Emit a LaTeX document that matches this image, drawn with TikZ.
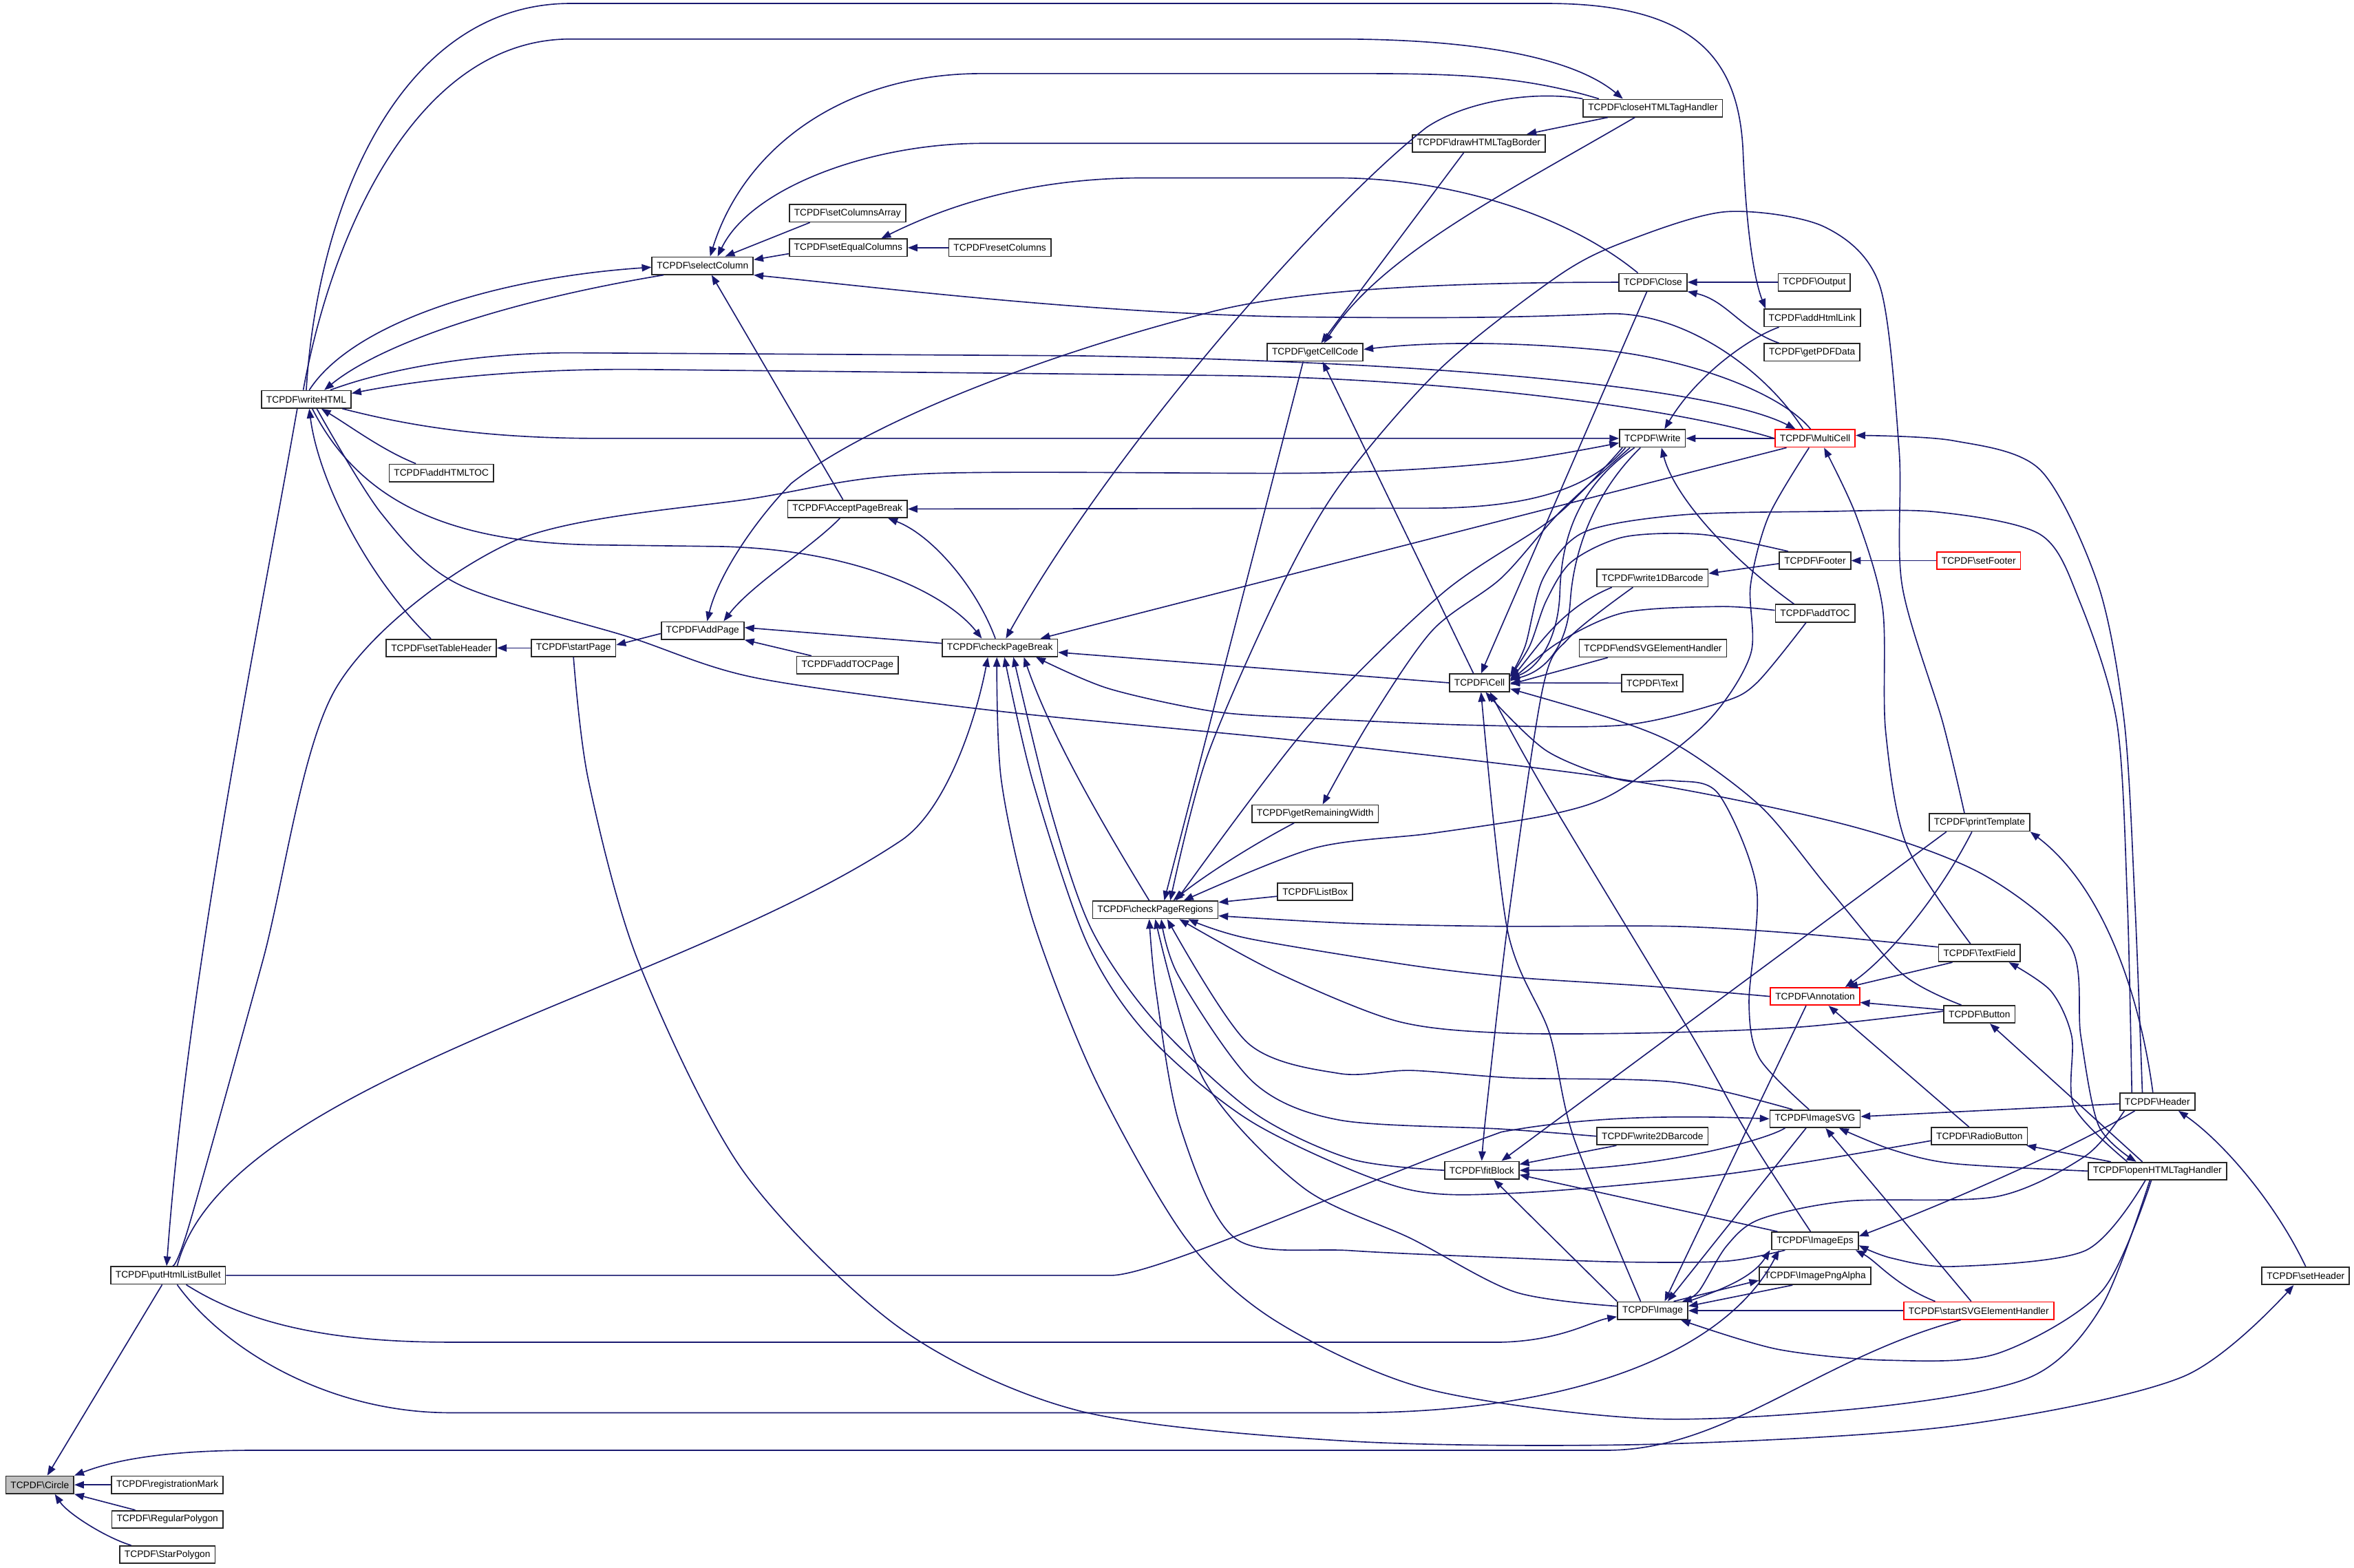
\documentclass[tikz,border=0pt]{standalone}
\usepackage{fontspec}
\setmainfont{Liberation Sans}
\usetikzlibrary{arrows.meta}
\definecolor{edgeblue}{HTML}{191970}
\definecolor{hotred}{HTML}{FF0000}
\definecolor{focusgray}{HTML}{BFBFBF}
\newcommand\tcpdf[1]{TCPDF\textbackslash #1}

\begin{document}
\begin{tikzpicture}[x=1pt, y=-1pt,
  fn/.style={draw=black!85, fill=white, line width=0.8pt, inner xsep=3.2pt, inner ysep=0pt,
    minimum height=11.6pt, font=\fontsize{6.3}{7}\selectfont},
  hot/.style={fn, draw=hotred},
  focus/.style={fn, fill=focusgray},
  call/.style={draw=edgeblue, line width=0.75pt, -{Triangle[length=6.4pt,width=4.8pt]}}]
\fill[white] (0,0) rectangle (1568,1044.4);
\useasboundingbox (0,0) rectangle (1568,1044.4);

\node[focus] (circle) at (26.5,989) {\tcpdf{Circle}};
\node[fn] (regmark) at (111.5,989) {\tcpdf{registrationMark}};
\node[fn] (regpoly) at (111.5,1012) {\tcpdf{RegularPolygon}};
\node[fn] (starpoly) at (111.5,1035.5) {\tcpdf{StarPolygon}};
\node[fn] (bullet) at (112,849.5) {\tcpdf{putHtmlListBullet}};
\node[fn] (writehtml) at (204,266) {\tcpdf{writeHTML}};
\node[fn] (addhtmltoc) at (294,315) {\tcpdf{addHTMLTOC}};
\node[fn] (settablehdr) at (294,431.6) {\tcpdf{setTableHeader}};
\node[fn] (startpage) at (382,431.6) {\tcpdf{startPage}};
\node[fn] (addpage) at (468,420) {\tcpdf{AddPage}};
\node[fn] (addtocpage) at (564.5,443) {\tcpdf{addTOCPage}};
\node[fn] (selectcol) at (468,177) {\tcpdf{selectColumn}};
\node[fn] (setcolarr) at (564.5,142) {\tcpdf{setColumnsArray}};
\node[fn] (seteqcol) at (565,165) {\tcpdf{setEqualColumns}};
\node[fn] (resetcol) at (666,165) {\tcpdf{resetColumns}};
\node[fn] (acceptpb) at (564.5,339) {\tcpdf{AcceptPageBreak}};
\node[fn] (checkpb) at (666,431.5) {\tcpdf{checkPageBreak}};
\node[fn] (checkpr) at (769.5,606) {\tcpdf{checkPageRegions}};
\node[fn] (remwidth) at (876,542) {\tcpdf{getRemainingWidth}};
\node[fn] (listbox) at (876,594) {\tcpdf{ListBox}};
\node[fn] (getcellcode) at (876,234.7) {\tcpdf{getCellCode}};
\node[fn] (drawborder) at (985,95.5) {\tcpdf{drawHTMLTagBorder}};
\node[fn] (closetag) at (1101,72) {\tcpdf{closeHTMLTagHandler}};
\node[fn] (close) at (1101,188) {\tcpdf{Close}};
\node[fn] (output) at (1208.5,188) {\tcpdf{Output}};
\node[fn] (addhtmllink) at (1207,211.7) {\tcpdf{addHtmlLink}};
\node[fn] (getpdfdata) at (1207,234.7) {\tcpdf{getPDFData}};
\node[fn] (write) at (1100.7,292) {\tcpdf{Write}};
\node[hot] (multicell) at (1209,292) {\tcpdf{MultiCell}};
\node[fn] (footer) at (1209,373.4) {\tcpdf{Footer}};
\node[hot] (setfooter) at (1318,373.4) {\tcpdf{setFooter}};
\node[fn] (write1d) at (1100.7,385) {\tcpdf{write1DBarcode}};
\node[fn] (addtoc) at (1209,408.5) {\tcpdf{addTOC}};
\node[fn] (endsvg) at (1101,431.8) {\tcpdf{endSVGElementHandler}};
\node[fn] (text) at (1100.6,455) {\tcpdf{Text}};
\node[fn] (cell) at (985.5,454.8) {\tcpdf{Cell}};
\node[fn] (printtpl) at (1318.5,547.8) {\tcpdf{printTemplate}};
\node[fn] (textfield) at (1318.5,634.8) {\tcpdf{TextField}};
\node[hot] (annotation) at (1209,663.7) {\tcpdf{Annotation}};
\node[fn] (button) at (1318.5,675.6) {\tcpdf{Button}};
\node[fn] (header) at (1437,733.7) {\tcpdf{Header}};
\node[fn] (imagesvg) at (1209,745.2) {\tcpdf{ImageSVG}};
\node[fn] (radiobutton) at (1318.5,756.8) {\tcpdf{RadioButton}};
\node[fn] (write2d) at (1100.7,756.8) {\tcpdf{write2DBarcode}};
\node[fn] (fitblock) at (987,779.5) {\tcpdf{fitBlock}};
\node[fn] (openhtml) at (1437,780) {\tcpdf{openHTMLTagHandler}};
\node[fn] (imageeps) at (1209,826.5) {\tcpdf{ImageEps}};
\node[fn] (imagepng) at (1209,849.8) {\tcpdf{ImagePngAlpha}};
\node[fn] (image) at (1100.8,873) {\tcpdf{Image}};
\node[hot] (startsvg) at (1318,873) {\tcpdf{startSVGElementHandler}};
\node[fn] (setheader) at (1535.8,849.8) {\tcpdf{setHeader}};

% callers of Circle
\draw[call] (regmark) -- (circle);
\draw[call] ([xshift=16pt]regpoly.north west) -- (circle.south east);
\draw[call] ([xshift=8pt]starpoly.north west) .. controls (70,1024) and (45,1008) .. ([xshift=10pt]circle.south);
\draw[call] ([xshift=-4pt]bullet.south) -- ([xshift=5pt]circle.north);
\draw[call] ([xshift=-12pt]startsvg.south) .. controls (1210,905) and (1150,966) .. (1070,966) -- (170,966) .. controls (100,966) and (70,975) .. (circle.north east);

% putHtmlListBullet
\draw[call] ([xshift=-6pt]writehtml.south) .. controls (172,420) and (125,650) .. ([xshift=-1pt]bullet.north);
\draw[call] plot[smooth] coordinates {([xshift=3pt]bullet.north) (126,816) (175,640) (224,458) (341,361) (504,331.6) (617,315.5) (880,315) (1000,308) ([yshift=-3pt]write.west)};
\draw[call] ([xshift=6pt]bullet.north) .. controls (150,720) and (450,660) .. (600,560) .. controls (630,540) and (650,480) .. ([xshift=-8pt]checkpb.south);
\draw[call] (bullet.east) -- (740,849.5) .. controls (770,849.5) and (900,790) .. (1000,754) .. controls (1060,743) and (1120,743) .. (imagesvg.west);
\draw[call] ([xshift=12pt]bullet.south) .. controls (170,885) and (230,894) .. (300,894) -- (1000,894) .. controls (1040,893) and (1060,880) .. ([yshift=-4pt]image.west);
\draw[call] ([xshift=6pt]bullet.south) .. controls (150,900) and (220,941) .. (300,941) -- (900,941) .. controls (1050,941) and (1150,900) .. ([xshift=-24pt]imageeps.south);

% writeHTML
\draw[call] ([xshift=2pt]writehtml.north) .. controls (235,215) and (330,185) .. ([yshift=-1pt]selectcol.west);
\draw[call] ([xshift=-26pt]selectcol.south) .. controls (340,200) and (255,228) .. ([xshift=12pt]writehtml.north);
\draw[call] ([xshift=16pt]writehtml.north) .. controls (260,245) and (320,235) .. (380,235) -- (720,237) .. controls (1000,242) and (1150,262) .. ([xshift=-13pt]multicell.north);
\draw[call] (multicell.west) .. controls (1110,270) and (950,251) .. (802,250) -- (420,246) .. controls (330,246) and (270,255) .. ([yshift=4pt]writehtml.east);
\draw[call] ([xshift=24pt]writehtml.south) .. controls (270,283) and (320,292) .. (400,292) -- (write.west);
\draw[call] ([xshift=-17pt]addhtmltoc.north) .. controls (255,300) and (235,285) .. ([xshift=10pt]writehtml.south);
\draw[call] ([xshift=-7pt]settablehdr.north) .. controls (245,385) and (212,320) .. ([xshift=2pt]writehtml.south);
\draw[call] ([xshift=4pt]writehtml.south) .. controls (240,335) and (300,362) .. (400,363) -- (480,364) .. controls (570,366) and (630,395) .. ([xshift=-12pt]checkpb.north);
\draw[call] plot[smooth] coordinates {([xshift=7pt]writehtml.south) (254,342) (305,389) (418,424) (504,451.6) (668,474) (871,494) (1086,520) (1232,550) (1320,582) (1379,630) (1386,690) (1398,750) ([xshift=-14pt]openhtml.north)};
\draw[call] ([xshift=-2pt]writehtml.north) .. controls (222,150) and (280,26) .. (380,26) -- (890,26) .. controls (990,26) and (1050,40) .. ([xshift=-20pt]closetag.north);
\draw[call] (writehtml.north) .. controls (212,130) and (270,2.3) .. (380,2.3) -- (1030,2.3) .. controls (1130,2.3) and (1158,40) .. (1161,100) .. controls (1163,150) and (1168,185) .. ([xshift=-31pt]addhtmllink.north);

% selectColumn
\draw[call] ([xshift=-36pt]closetag.north) .. controls (1010,49) and (960,49) .. (896,49) -- (654,49) .. controls (560,49) and (495,100) .. ([xshift=5pt]selectcol.north);
\draw[call] (drawborder.west) -- (654,95.5) .. controls (580,95.5) and (500,125) .. ([xshift=10pt]selectcol.north);
\draw[call] ([xshift=-25pt]setcolarr.south) -- ([xshift=15pt]selectcol.north);
\draw[call] ([yshift=-4pt]seteqcol.west) -- ([yshift=4pt]selectcol.east);
\draw[call] (resetcol) -- (seteqcol);
\draw[call] ([xshift=-10pt]close.north) .. controls (1040,140) and (960,118.5) .. (890,118.5) -- (762,118.5) .. controls (690,118.5) and (635,135) .. ([xshift=22pt]seteqcol.north);
\draw[call] ([xshift=-8pt]multicell.north) .. controls (1175,245) and (1120,207) .. (1070,209) .. controls (1000,212) and (950,212) .. (856,211) .. controls (720,208) and (590,192) .. (selectcol.south east);
\draw[call] ([xshift=-3pt]acceptpb.north) -- ([xshift=6pt]selectcol.south);

% AddPage, AcceptPageBreak, startPage
\draw[call] ([xshift=-5pt]acceptpb.south) .. controls (540,365) and (500,390) .. ([xshift=14pt]addpage.north);
\draw[call] (close.west) .. controls (960,188) and (860,193) .. (802,209) .. controls (700,235) and (580,280) .. (527,322) .. controls (500,350) and (478,385) .. ([xshift=3pt]addpage.north);
\draw[call] ([xshift=-3pt]checkpb.north) .. controls (650,390) and (620,356) .. ([xshift=27pt]acceptpb.south);
\draw[call] ([xshift=-18pt]write.south) .. controls (1060,325) and (1020,338.5) .. (950,338.5) -- (acceptpb.east);
\draw[call] ([yshift=3pt]checkpb.west) -- ([yshift=2pt]addpage.east);
\draw[call] ([xshift=-24pt]addtocpage.north) -- (addpage.south east);
\draw[call] ([yshift=-2pt]addpage.west) -- ([yshift=2pt]startpage.east);
\draw[call] (startpage) -- (settablehdr);
\draw[call] plot[smooth] coordinates {(startpage.south) (392,520) (425,640) (495,780) (600,885) (720,940) (900,960) (1100,962) (1300,950) (1454,917) ([xshift=-8pt]setheader.south)};
\draw[call] (setheader.north) .. controls (1515,800) and (1480,760) .. ([xshift=14pt]header.south);

% checkPageBreak
\draw[call] (cell.west) -- ([yshift=-3pt]checkpb.east);
\draw[call] (closetag.north west) .. controls (1020,60) and (975,68) .. (950,85) .. controls (880,140) and (740,300) .. ([xshift=4pt]checkpb.north);
\draw[call] ([xshift=-19pt]multicell.south) -- ([xshift=27pt]checkpb.north);
\draw[call] plot[smooth] coordinates {([xshift=-6pt]addtoc.south) (1170,455) (1146,468) (1081,483) (980,483) (871,478.3) (808,473.8) (738,458.5) ([xshift=24pt]checkpb.south)};
\draw[call] ([xshift=-4pt]checkpr.north) .. controls (735,550) and (700,490) .. ([xshift=16pt]checkpb.south);
\draw[call] plot[smooth] coordinates {(fitblock.west) (900,772) (835,741) (769,680) (727,619) (700,540) ([xshift=9pt]checkpb.south)};
\draw[call] plot[smooth] coordinates {([yshift=-3pt]radiobutton.west) (1150,782) (1009,794.7) (933,791) (835,748) (765,690) (724,628) (688,520.7) ([xshift=3pt]checkpb.south)};
\draw[call] plot[smooth] coordinates {([xshift=-5pt]openhtml.south) (1400,870) (1353,917) (1250,937) (1100,945) (950,925) (850,880) (790,825) (730,720) (688,613) (667,520) ([xshift=-2pt]checkpb.south)};

% getCellCode
\draw[call] ([xshift=-4pt]cell.north) -- ([xshift=5pt]getcellcode.south);
\draw[call] ([xshift=-10pt]drawborder.south) -- ([xshift=4pt]getcellcode.north);
\draw[call] ([xshift=-12pt]closetag.south) .. controls (1000,130) and (920,170) .. ([xshift=6pt]getcellcode.north);
\draw[call] ([xshift=-3pt]multicell.north) .. controls (1185,260) and (1120,238) .. (1065,233) .. controls (1000,227) and (950,228) .. ([yshift=2pt]getcellcode.east);
\draw[call] ([xshift=-8pt]getcellcode.south) -- ([xshift=6pt]checkpr.north);
\draw[call] ([xshift=-30pt]closetag.south) -- ([xshift=32pt]drawborder.north);

% checkPageRegions
\draw[call] plot[smooth] coordinates {([xshift=-10pt]printtpl.north) (1294,481) (1267,390) (1265,300) (1252,190) (1215,151) (1150,141) (1085,160) (1039,183) (960,245) (894,321) (854,390) (804,504) ([xshift=10pt]checkpr.north)};
\draw[call] plot[smooth] coordinates {([xshift=-20pt]write.south) (1036,344) (961,395) (871,484) ([xshift=14pt]checkpr.north)};
\draw[call] plot[smooth] coordinates {([xshift=-15pt]write.south) (1040,340) (1000,385) (954,420) (912,481) ([xshift=5pt]remwidth.north)};
\draw[call] ([xshift=-14pt]remwidth.south) .. controls (830,565) and (800,585) .. ([xshift=12pt]checkpr.north);
\draw[call] ([yshift=-3pt]listbox.west) -- ([yshift=5pt]checkpr.east);
\draw[call] plot[smooth] coordinates {([yshift=4pt]textfield.west) (1200,622) (1115,617) (1000,617) (900,615) ([yshift=-4pt]checkpr.east)};
\draw[call] plot[smooth] coordinates {(annotation.west) (1100,657) (1009,651) (940,643) (831,625) ([xshift=22pt]checkpr.south)};
\draw[call] plot[smooth] coordinates {([yshift=2pt]button.west) (1200,684) (1100,688) (1000,688) (930,680) (851,648) ([xshift=16pt]checkpr.south)};
\draw[call] plot[smooth] coordinates {([xshift=-15pt]imagesvg.north) (1115.6,720.8) (1009,718) (940,713) (892,715) (831,694.6) ([xshift=8pt]checkpr.south)};
\draw[call] plot[smooth] coordinates {(write2d.west) (1000,752) (892,746) (835,721) (785,650) ([xshift=4pt]checkpr.south)};
\draw[call] plot[smooth] coordinates {([yshift=3pt]image.west) (1009,860.5) (940,825) (868,791) (802,719.4) (checkpr.south)};
\draw[call] plot[smooth] coordinates {([xshift=-20pt]imageeps.south) (1150,840) (1082,840.6) (1009,838) (900,833) (823,825) (786,750) (770,660) ([xshift=-4pt]checkpr.south)};
\draw[call] plot[smooth] coordinates {([xshift=-4pt]multicell.south) (1178,344) (1166,390) (1166,436) (1137,481) (1077.5,527) (1033,542.5) (954,555) (875,565) ([xshift=19pt]checkpr.north)};

% Cell
\draw[call] ([xshift=-12pt]write.south) .. controls (1050,325) and (1040,360) .. (1039,395) .. controls (1038,425) and (1025,445) .. ([yshift=3pt]cell.east);
\draw[call] ([xshift=-8pt]write.south) .. controls (1060,330) and (1048,370) .. (1046,400) .. controls (1044,430) and (1030,447) .. ([yshift=2pt]cell.east);
\draw[call] ([xshift=-4pt]close.south) -- ([xshift=1pt]cell.north);
\draw[call] plot[smooth] coordinates {([xshift=-18pt]footer.north) (1134,356) (1082,357.6) (1047,374) (1030,400) (1019,430) ([yshift=4pt]cell.east)};
\draw[call] ([xshift=-27pt]write1d.south) .. controls (1040,405) and (1025,430) .. ([yshift=2pt]cell.east);
\draw[call] ([xshift=-30pt]endsvg.south) -- ([yshift=-1pt]cell.east);
\draw[call] (text) -- (cell);
\draw[call] plot[smooth] coordinates {([yshift=2pt]addtoc.west) (1146,404) (1082,408) (1038,428) ([yshift=1pt]cell.east)};
\draw[call] plot[smooth] coordinates {([xshift=-17pt]header.north) (1417,600) (1410,481) (1385,400) (1359,356) (1290,341) (1213,340.7) (1120,343) (1055,354.5) (1028,385) (1016,430) ([yshift=4.5pt]cell.east)};
\draw[call] plot[smooth] coordinates {([xshift=-10pt]header.north) (1422,600) (1415,481) (1397.6,389.7) (1359,313) (1301,293.5) ([yshift=2pt]multicell.east)};
\draw[call] plot[smooth] coordinates {([xshift=12pt]button.north west) (1267,648.6) (1217.8,591.5) (1173.7,538) (1121,498.5) (1077.7,480) ([yshift=-4pt]cell.east)};
\draw[call] plot[smooth] coordinates {([xshift=-4pt]imagesvg.north) (1172,705) (1165,668) (1170,591) (1144.6,528.7) (1115,520) (1080,519.6) (1030,500) ([xshift=4pt]cell.south)};
\draw[call] plot[smooth] coordinates {([xshift=-3pt]imageeps.north) (1165,757) (1126,688) (1029,527) ([xshift=7pt]cell.south)};
\draw[call] plot[smooth] coordinates {([xshift=-8pt]image.north) (1048,757) (1032,688) (1004,619) ([xshift=1pt]cell.south)};
\draw[call] plot[smooth] coordinates {([xshift=-13pt]write1d.south) (1045,425) (1027.6,458.5) (1005,610) (990,740) (fitblock.north)};

% Write, Close, MultiCell
\draw[call] ([xshift=-22pt]addhtmllink.south) .. controls (1165,225) and (1130,250) .. ([xshift=8pt]write.north);
\draw[call] ([xshift=-22pt]getpdfdata.north) .. controls (1160,220) and (1150,200) .. (close.south east);
\draw[call] (output) -- (close);
\draw[call] (multicell) -- (write);
\draw[call] ([xshift=-14pt]addtoc.north) .. controls (1150,370) and (1115,330) .. ([xshift=6pt]write.south);
\draw[call] ([yshift=-2pt]footer.west) -- ([yshift=3pt]write1d.east);
\draw[call] (setfooter) -- (footer);
\draw[call] plot[smooth] coordinates {([xshift=-6pt]textfield.north) (1270,563) (1256,487) (1254,405) (1236.6,344) ([xshift=6pt]multicell.south)};

% forms, templates, images
\draw[call] ([xshift=-18pt]textfield.south) -- ([xshift=-8pt]annotation.north east);
\draw[call] ([xshift=-5pt]printtpl.south) .. controls (1290,600) and (1255,640) .. ([xshift=-10pt]annotation.north east);
\draw[call] ([yshift=3pt]button.west) -- ([yshift=-4pt]annotation.east);
\draw[call] ([xshift=-7pt]radiobutton.north) -- ([xshift=9pt]annotation.south);
\draw[call] ([xshift=-6pt]annotation.south) -- ([xshift=8pt]image.north);
\draw[call] ([xshift=-22pt]printtpl.south) -- ([xshift=-12pt]fitblock.north east);
\draw[call] ([xshift=-3pt]header.north) .. controls (1425,660) and (1400,590) .. (printtpl.south east);
\draw[call] ([yshift=-1.5pt]header.west) -- ([yshift=1.5pt]imagesvg.east);
\draw[call] ([xshift=-15pt]header.south) .. controls (1380,765) and (1300,800) .. ([yshift=3pt]imageeps.east);
\draw[call] plot[smooth] coordinates {([xshift=-22pt]header.south) (1389,770) (1330,797) (1231,800) (1172.5,812) (1150,830) (1131.6,860) ([xshift=-4pt]image.north east)};
\draw[call] plot[smooth] coordinates {(openhtml.west) (1301,775) (1260,765.7) ([xshift=16pt]imagesvg.south)};
\draw[call] plot[smooth] coordinates {([xshift=-20pt]openhtml.north) (1381.6,737.3) (1380,690.5) (1366,660) ([xshift=-8pt]textfield.south east)};
\draw[call] ([xshift=-10pt]openhtml.north) -- ([xshift=7pt]button.south);
\draw[call] ([xshift=-31pt]openhtml.north) -- ([xshift=-1pt]radiobutton.south east);
\draw[call] plot[smooth] coordinates {([xshift=-8pt]openhtml.south) (1389,833) (1301,843.6) (1260,838) ([yshift=-3pt]imageeps.east)};
\draw[call] plot[smooth] coordinates {([xshift=-4pt]openhtml.south) (1400,860) (1330,901.7) (1257,906) (1184,898.7) ([xshift=-5pt]image.south east)};
\draw[call] (startsvg.west) -- (image.east);
\draw[call] ([xshift=-29pt]startsvg.north) .. controls (1262,856) and (1250,840) .. ([xshift=27pt]imageeps.south);
\draw[call] ([xshift=-5pt]startsvg.north) -- ([xshift=7pt]imagesvg.south);
\draw[call] ([xshift=-6pt]imagesvg.south) -- ([xshift=10pt]image.north);
\draw[call] ([xshift=-20pt]imagesvg.south) .. controls (1175,760) and (1100,780) .. (fitblock.east);
\draw[call] ([xshift=-24pt]write2d.south) -- ([yshift=4pt]fitblock.east);
\draw[call] ([xshift=-25pt]imageeps.north) -- ([yshift=-3pt]fitblock.east);
\draw[call] (image.north west) -- ([xshift=8pt]fitblock.south);
\draw[call] (image.north east) .. controls (1150,858) and (1168,850) .. ([xshift=-30pt]imageeps.south);
\draw[call] ([xshift=14pt]image.north) -- ([yshift=-3pt]imagepng.west);
\draw[call] ([xshift=-15pt]imagepng.south) -- ([yshift=3pt]image.east);

\end{tikzpicture}
\end{document}
